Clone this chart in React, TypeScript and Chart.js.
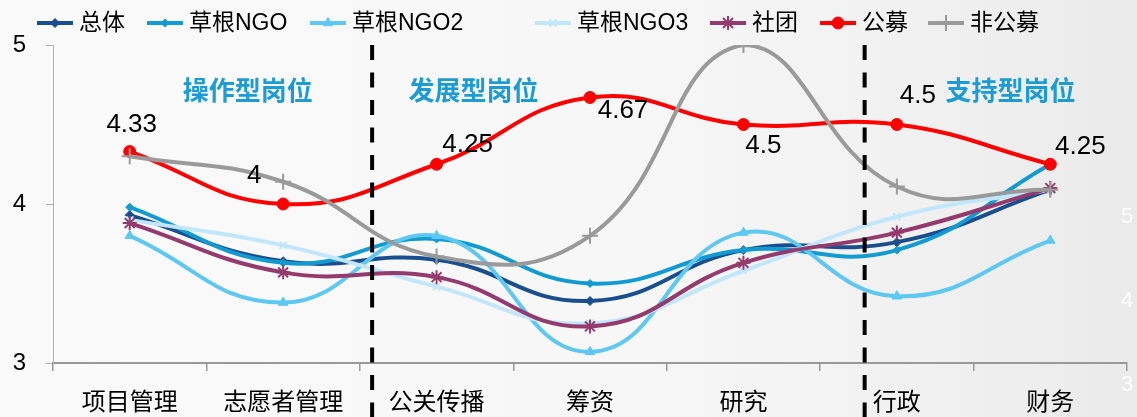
import React, { useEffect, useRef } from "react";
import { Chart, registerables } from "chart.js";
import { drawPoint } from "chart.js/helpers";

Chart.register(...registerables);

// Job categories along the x axis
const categories = ["项目管理", "志愿者管理", "公关传播", "筹资", "研究", "行政", "财务"];
const yTicks = [3, 4, 5];

const seriesNames = ["总体", "草根NGO", "草根NGO2", "草根NGO3", "社团", "公募", "非公募"];
const overall = [3.93, 3.64, 3.65, 3.39, 3.71, 3.76, 4.09];
const grassroots = [3.98, 3.63, 3.78, 3.5, 3.71, 3.71, 4.25];
const grassroots2 = [3.8, 3.38, 3.8, 3.07, 3.82, 3.42, 3.77];
const grassroots3 = [3.9, 3.74, 3.48, 3.25, 3.58, 3.92, 4.09];
const associations = [3.88, 3.57, 3.54, 3.23, 3.63, 3.82, 4.1];
const publicFund = [4.33, 4.0, 4.25, 4.67, 4.5, 4.5, 4.25];
const nonPublicFund = [4.3, 4.14, 3.67, 3.8, 5.0, 4.11, 4.09];

// Group titles and the category positions of the group dividers
const sectionTitles = ["操作型岗位", "发展型岗位", "支持型岗位"];
const sectionCenters = [0.77, 2.24, 5.74];
const dividerPositions = [1.58, 4.79];

const seriesValues = [overall, grassroots, grassroots2, grassroots3, associations, publicFund, nonPublicFund];

const seriesStyles = [
  { color: "#1a4f8f", point: "rectRot", radius: 4.5, bw: 1 },
  { color: "#129bd2", point: "rectRot", radius: 4, bw: 1 },
  { color: "#5ec8f2", point: "triangle", radius: 5.5, bw: 1 },
  { color: "#c2e7fb", point: "crossRot", radius: 5, bw: 2 },
  { color: "#953a6c", point: "star", radius: 7, bw: 2 },
  { color: "#ff0000", point: "circle", radius: 6, bw: 1 },
  { color: "#9a9a9a", point: "cross", radius: 8, bw: 2 },
];

const LATIN = "'Liberation Sans', 'Noto Sans CJK SC', sans-serif";
const CJK_BOLD = "bold 26px 'Noto Sans CJK SC', sans-serif";

// Offsets of the value labels on the 公募 line, relative to each point
const labelOffsets = [
  [2, -27],
  [-29, -28],
  [31, -19],
  [33, 13],
  [20, 21],
  [21, -29],
  [30, -17],
];

// Legend item start positions
const legendStarts = [37, 147, 310, 535, 710, 820, 928];

const fmt = (v: number) => String(Number(v.toFixed(2)));

const decorPlugin = {
  id: "decor",
  beforeDraw(chart: any) {
    const { ctx, width, height } = chart;
    ctx.save();
    const g = ctx.createLinearGradient(0, 0, width, 0);
    g.addColorStop(0, "#fafafa");
    g.addColorStop(0.55, "#f7f7f7");
    g.addColorStop(0.8, "#f1f1f1");
    g.addColorStop(1, "#eaeaea");
    ctx.fillStyle = g;
    ctx.fillRect(0, 0, width, height);
    // faint numerals of the backdrop at the right edge
    ctx.fillStyle = "rgba(255,255,255,0.9)";
    ctx.font = "22px " + LATIN;
    ctx.textAlign = "center";
    ctx.textBaseline = "middle";
    ["5", "4", "3"].forEach((t, i) => ctx.fillText(t, 1127, 217 + i * 84));
    ctx.restore();
  },
  afterDatasetsDraw(chart: any) {
    const { ctx, chartArea, height } = chart;
    const xs = chart.scales.x;
    ctx.save();

    // dashed group dividers
    ctx.strokeStyle = "#000";
    ctx.lineWidth = 4;
    ctx.setLineDash([15, 12.5]);
    dividerPositions.forEach((p) => {
      const x = xs.getPixelForValue(p);
      ctx.beginPath();
      ctx.moveTo(x, chartArea.top);
      ctx.lineTo(x, height);
      ctx.stroke();
    });
    ctx.setLineDash([]);

    // group titles
    ctx.fillStyle = "#1c9cd6";
    ctx.font = CJK_BOLD;
    ctx.textAlign = "center";
    ctx.textBaseline = "middle";
    sectionTitles.forEach((t, i) => {
      ctx.fillText(t, xs.getPixelForValue(sectionCenters[i]), chartArea.top + 45);
    });

    // value labels on 公募
    const meta = chart.getDatasetMeta(5);
    ctx.fillStyle = "#000";
    ctx.font = "26px " + LATIN;
    meta.data.forEach((pt: any, i: number) => {
      const [dx, dy] = labelOffsets[i];
      ctx.fillText(fmt(publicFund[i]), pt.x + dx, pt.y + dy);
    });

    // legend
    const ly = 23;
    ctx.font = "23px " + LATIN;
    ctx.textAlign = "left";
    seriesNames.forEach((name, i) => {
      const s = seriesStyles[i];
      const x0 = legendStarts[i];
      ctx.strokeStyle = s.color;
      ctx.fillStyle = s.color;
      ctx.lineWidth = 4;
      ctx.beginPath();
      ctx.moveTo(x0, ly);
      ctx.lineTo(x0 + 36, ly);
      ctx.stroke();
      ctx.lineWidth = s.bw;
      drawPoint(ctx, { pointStyle: s.point as any, radius: s.radius, rotation: 0, borderWidth: s.bw }, x0 + 18, ly);
      ctx.fillStyle = "#000";
      ctx.fillText(name, x0 + 42, ly + 1);
    });
    ctx.restore();
  },
};

export default function App() {
  const ref = useRef<HTMLCanvasElement>(null);

  useEffect(() => {
    document.body.style.margin = "0";
    const datasets = seriesValues.map((values, i) => {
      const s = seriesStyles[i];
      return {
        label: seriesNames[i],
        data: values,
        borderColor: s.color,
        backgroundColor: s.color,
        borderWidth: 4,
        pointStyle: s.point as any,
        pointRadius: s.radius,
        pointHoverRadius: s.radius,
        pointBorderWidth: s.bw,
        pointBackgroundColor: s.color,
        pointBorderColor: s.color,
        tension: 0.45,
        fill: false,
        order: seriesValues.length - i,
      };
    });

    const chart = new Chart(ref.current as HTMLCanvasElement, {
      type: "line",
      data: { labels: categories, datasets },
      options: {
        responsive: false,
        animation: false,
        devicePixelRatio: 1,
        layout: { padding: { top: 45, left: 0, right: 0, bottom: 0 } },
        plugins: {
          legend: { display: false },
          tooltip: { enabled: false },
        },
        scales: {
          x: {
            type: "category",
            offset: true,
            grid: {
              offset: true,
              drawOnChartArea: false,
              drawTicks: true,
              tickLength: 8,
              color: "#999",
              lineWidth: 1.5,
            },
            border: { display: true, color: "#999", width: 2 },
            ticks: {
              color: "#000",
              padding: 18,
              maxRotation: 0,
              autoSkip: false,
              font: { family: LATIN, size: 24 },
            },
            afterFit: (scale: any) => {
              scale.height = 54;
            },
          },
          y: {
            min: 3,
            max: 5,
            grid: {
              drawOnChartArea: false,
              drawTicks: true,
              tickLength: 7,
              color: "#b0b0b0",
            },
            border: { display: true, color: "#b0b0b0", width: 1 },
            ticks: {
              color: "#000",
              padding: 20,
              font: { family: LATIN, size: 24 },
            },
            afterBuildTicks: (scale: any) => {
              scale.ticks = yTicks.map((v) => ({ value: v }));
            },
            afterFit: (scale: any) => {
              scale.width = 53;
            },
          },
        },
      },
      plugins: [decorPlugin],
    });
    return () => chart.destroy();
  }, []);

  return (
    <div style={{ width: 1137, height: 417 }}>
      <canvas ref={ref} width={1137} height={417} style={{ display: "block" }} />
    </div>
  );
}
